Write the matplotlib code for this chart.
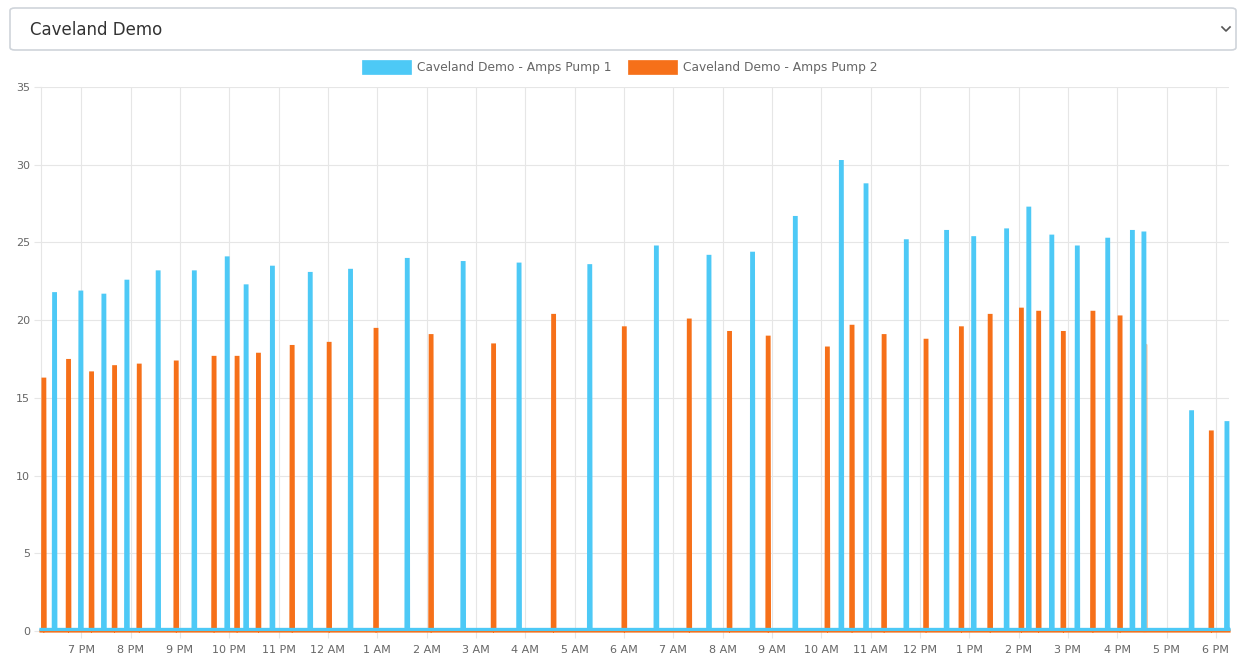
import matplotlib
matplotlib.use("Agg")
import matplotlib.pyplot as plt
import matplotlib.dates as mdates
import pandas as pd
from matplotlib.patches import FancyBboxPatch, Rectangle
from matplotlib.lines import Line2D

# ---------------- data ----------------
station = "Caveland Demo"
series_names = ["Caveland Demo - Amps Pump 1", "Caveland Demo - Amps Pump 2"]

pump1_start = [
    "2021-06-10 18:26", "2021-06-10 18:58", "2021-06-10 19:26", "2021-06-10 19:54",
    "2021-06-10 20:32", "2021-06-10 21:16", "2021-06-10 21:56", "2021-06-10 22:19",
    "2021-06-10 22:51", "2021-06-10 23:37", "2021-06-11 00:26", "2021-06-11 01:35",
    "2021-06-11 02:43", "2021-06-11 03:51", "2021-06-11 05:17", "2021-06-11 06:38",
    "2021-06-11 07:42", "2021-06-11 08:35", "2021-06-11 09:27", "2021-06-11 10:23",
    "2021-06-11 10:53", "2021-06-11 11:42", "2021-06-11 12:31", "2021-06-11 13:04",
    "2021-06-11 13:44", "2021-06-11 14:11", "2021-06-11 14:39", "2021-06-11 15:10",
    "2021-06-11 15:47", "2021-06-11 16:17", "2021-06-11 16:31", "2021-06-11 17:29",
    "2021-06-11 18:12",
]
pump1_peak = [
    21.7, 21.8, 21.6, 22.5, 23.1, 23.1, 24.0, 22.2, 23.4, 23.0, 23.2, 23.9,
    23.7, 23.6, 23.5, 24.7, 24.1, 24.3, 26.6, 30.2, 28.7, 25.1, 25.7, 25.3,
    25.8, 27.2, 25.4, 24.7, 25.2, 25.7, 25.6, 14.1, 13.4,
]

pump2_start = [
    "2021-06-10 18:13", "2021-06-10 18:43", "2021-06-10 19:11", "2021-06-10 19:39",
    "2021-06-10 20:09", "2021-06-10 20:54", "2021-06-10 21:40", "2021-06-10 22:08",
    "2021-06-10 22:34", "2021-06-10 23:15", "2021-06-11 00:00", "2021-06-11 00:57",
    "2021-06-11 02:04", "2021-06-11 03:20", "2021-06-11 04:33", "2021-06-11 05:59",
    "2021-06-11 07:18", "2021-06-11 08:07", "2021-06-11 08:54", "2021-06-11 10:06",
    "2021-06-11 10:36", "2021-06-11 11:15", "2021-06-11 12:06", "2021-06-11 12:49",
    "2021-06-11 13:24", "2021-06-11 14:02", "2021-06-11 14:23", "2021-06-11 14:53",
    "2021-06-11 15:29", "2021-06-11 16:02", "2021-06-11 17:53",
]
pump2_peak = [
    16.2, 17.4, 16.6, 17.0, 17.1, 17.3, 17.6, 17.6, 17.8, 18.3, 18.5, 19.4,
    19.0, 18.4, 20.3, 19.5, 20.0, 19.2, 18.9, 18.2, 19.6, 19.0, 18.7, 19.5,
    20.3, 20.7, 20.5, 19.2, 20.5, 20.2, 12.8,
]
# faint (partly hidden) pump 2 run
pump2_faint_start = ["2021-06-11 16:33"]
pump2_faint_peak = [18.4]

pump1_base = 0.1
pump2_base = 0.0

x_start = "2021-06-10 18:11"
x_end = "2021-06-11 18:16"
y_ticks = [0, 5, 10, 15, 20, 25, 30, 35]

BLUE = "#4dc9f6"
ORANGE = "#f67019"
GRID = "#e6e6e6"
TXT = "#666666"


def spike_series(starts, peaks, base, t0, t1):
    times = [pd.Timestamp(t0)]
    vals = [base]
    for s, p in zip(starts, peaks):
        s = pd.Timestamp(s)
        times += [s, s + pd.Timedelta(seconds=30), s + pd.Timedelta(seconds=150),
                  s + pd.Timedelta(seconds=180)]
        vals += [base, p, p, base]
    times.append(pd.Timestamp(t1))
    vals.append(base)
    return times, vals


# ---------------- figure ----------------
W, H = 1238, 660
fig = plt.figure(figsize=(W / 100, H / 100), dpi=100)
fig.patch.set_facecolor("white")
plt.rcParams["font.family"] = ["DejaVu Sans"]


def fx(px):
    return px / W


def fy(py):
    return 1 - py / H


# dropdown box
box = FancyBboxPatch((fx(10), fy(50)), fx(1236) - fx(10), fy(8) - fy(50),
                     boxstyle="round,pad=0,rounding_size=0.004",
                     transform=fig.transFigure, facecolor="white",
                     edgecolor="#cfd4da", linewidth=1.2)
fig.patches.append(box)
fig.text(fx(30), fy(30), station, fontsize=12, color="#333333",
         ha="left", va="center")
fig.add_artist(Line2D([fx(1222), fx(1226), fx(1230)], [fy(27), fy(31), fy(27)],
                      transform=fig.transFigure, color="#555555", linewidth=1.2))

# legend
for x0, col, name in [(362, BLUE, series_names[0]), (628, ORANGE, series_names[1])]:
    fig.patches.append(Rectangle((fx(x0), fy(74)), fx(49), fy(60) - fy(74),
                                 transform=fig.transFigure, facecolor=col,
                                 edgecolor=col, linewidth=0.5))
    fig.text(fx(x0 + 55), fy(67.5), name, fontsize=8.8, color=TXT,
             ha="left", va="center")

# axes
left, right, top, bottom = 41, 1229, 87, 631
ax = fig.add_axes([fx(left), fy(bottom), fx(right) - fx(left), fy(top) - fy(bottom)])
ax.set_facecolor("white")

t2, v2 = spike_series(pump2_start, pump2_peak, pump2_base, x_start, x_end)
tf, vf = spike_series(pump2_faint_start, pump2_faint_peak, pump2_base,
                      pump2_faint_start[0], pump2_faint_start[0])
t1, v1 = spike_series(pump1_start, pump1_peak, pump1_base, x_start, x_end)

ax.plot(tf, vf, color=ORANGE, linewidth=1.6, alpha=0.45, clip_on=False, zorder=2)
ax.plot(t2, v2, color=ORANGE, linewidth=2.3, clip_on=False, zorder=3,
        solid_joinstyle="miter")
ax.plot(t1, v1, color=BLUE, linewidth=2.3, clip_on=False, zorder=4,
        solid_joinstyle="miter")

ax.set_xlim(pd.Timestamp(x_start), pd.Timestamp(x_end))
ax.set_ylim(0, 35)
ax.set_yticks(y_ticks)
ax.xaxis.set_major_locator(mdates.HourLocator())
ax.xaxis.set_major_formatter(mdates.DateFormatter("%-I %p"))

ax.grid(True, color=GRID, linewidth=0.8)
ax.set_axisbelow(True)
for s in ["top", "right"]:
    ax.spines[s].set_visible(False)
for s in ["left", "bottom"]:
    ax.spines[s].set_color(GRID)
    ax.spines[s].set_linewidth(0.8)
    ax.spines[s].set_zorder(0)

ax.tick_params(axis="both", length=5, color=GRID, width=0.8, labelcolor=TXT,
               labelsize=8)
ax.tick_params(axis="y", pad=3)
ax.tick_params(axis="x", pad=5)

fig.savefig("out.png", dpi=100, facecolor="white")
